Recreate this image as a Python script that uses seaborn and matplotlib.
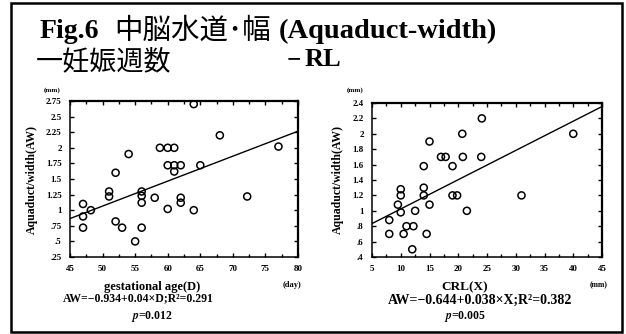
import numpy as np
import matplotlib
matplotlib.use("Agg")
import matplotlib.pyplot as plt
import seaborn as sns
from matplotlib.patches import Rectangle
from matplotlib.ticker import MultipleLocator

# gestational age (days) vs aqueduct width (mm)
ga_days = [47, 47, 47, 48.2, 51, 51, 52, 52, 53, 54, 55, 56, 56, 56, 56, 58,
           58.8, 60, 61, 60, 61, 62, 61, 60, 62, 62, 64, 64, 65, 68, 72.2, 77]
ga_aw = [1.1, 0.9, 0.72, 1.0, 1.3, 1.22, 0.82, 1.6, 0.72, 1.9, 0.5, 1.3, 1.23, 1.12,
         0.72, 1.2, 2.0, 2.0, 2.0, 1.72, 1.72, 1.72, 1.62, 1.02, 1.2, 1.12, 2.7, 1.0,
         1.72, 2.2, 1.22, 2.02]
ga_fit = (-0.934, 0.04)

# CRL (mm) vs aqueduct width (mm)
crl_mm = [8, 8, 9.5, 10, 10, 10, 10.5, 11, 12, 12.2, 12.5, 14, 14, 14, 14.5, 15,
          15, 17, 17.8, 19, 19, 19.8, 20.7, 20.8, 21.5, 24.1, 24, 31, 40]
crl_aw = [0.7, 0.88, 1.08, 1.28, 1.2, 0.98, 0.7, 0.8, 0.5, 0.8, 1.0, 1.58, 1.3, 1.2,
          0.7, 1.9, 1.08, 1.7, 1.7, 1.58, 1.2, 1.2, 2.0, 1.7, 1.0, 2.2, 1.7, 1.2, 2.0]
crl_fit = (0.644, 0.038)

ga_yticks = [0.25, 0.5, 0.75, 1, 1.25, 1.5, 1.75, 2, 2.25, 2.5, 2.75]
ga_yticklabels = [".25", ".5", ".75", "1", "1.25", "1.5", "1.75", "2", "2.25", "2.5", "2.75"]
crl_yticks = [0.4, 0.6, 0.8, 1.0, 1.2, 1.4, 1.6, 1.8, 2.0, 2.2, 2.4]
crl_yticklabels = [".4", ".6", ".8", "1", "1.2", "1.4", "1.6", "1.8", "2", "2.2", "2.4"]

sns.set_theme(style="ticks")
plt.rcParams['font.family'] = ['Liberation Serif', 'Noto Sans CJK JP']
plt.rcParams['font.weight'] = 'bold'
plt.rcParams['mathtext.fontset'] = 'stix'
for key in ('text.color', 'axes.labelcolor', 'xtick.color', 'ytick.color'):
    plt.rcParams[key] = 'black'

fig = plt.figure(figsize=(6.26, 3.34), dpi=100)
W, H = 626, 334


def px_axes(x0, y0, x1, y1):
    return fig.add_axes([x0 / W, 1 - y1 / H, (x1 - x0) / W, (y1 - y0) / H])


def draw_panel(ax, x, y, fit, xlim, xstep, yticks, yticklabels):
    sns.scatterplot(x=x, y=y, ax=ax, s=26, facecolor='none', edgecolor='black',
                    linewidth=1.1, zorder=3)
    xs = np.array(xlim, dtype=float)
    sns.lineplot(x=xs, y=fit[0] + fit[1] * xs, ax=ax, color='black', linewidth=1.0)
    ax.set_xlim(*xlim)
    ax.set_ylim(yticks[0], yticks[-1])
    ax.xaxis.set_major_locator(MultipleLocator(xstep))
    ax.xaxis.set_minor_locator(MultipleLocator(xstep / 2))
    ax.set_yticks(yticks)
    ax.set_yticklabels(yticklabels)
    ax.tick_params(which='both', direction='in', top=True, right=True,
                   labelsize=6.5, pad=6, width=1, length=3, color='black')
    ax.tick_params(which='minor', length=2)
    for lab in ax.get_xticklabels() + ax.get_yticklabels():
        lab.set_fontweight('bold')
    for side, sp in ax.spines.items():
        sp.set_visible(True)
        sp.set_color('black')
        sp.set_linewidth(1.6 if side in ('top', 'right') else 1.1)
    ax.set_xlabel('')
    ax.set_ylabel('Aquaduct/width(AW)', fontsize=8.5, fontweight='bold', labelpad=6)


ax1 = px_axes(70, 101, 298, 257)
draw_panel(ax1, ga_days, ga_aw, ga_fit, (45, 80), 5, ga_yticks, ga_yticklabels)
ax2 = px_axes(372, 103, 602, 257)
draw_panel(ax2, crl_mm, crl_aw, crl_fit, (5, 45), 5, crl_yticks, crl_yticklabels)

# outer frame
fig.patches.append(Rectangle((11 / W, 2 / H), 611 / W, 329 / H, transform=fig.transFigure,
                             fill=False, edgecolor='black', linewidth=1.8))


def ftext(x, y, s, **kw):
    fig.text(x / W, 1 - y / H, s, **kw)


# title, two lines
ftext(40, 31, 'Fig.6', fontsize=20, fontweight='bold', va='center')
ftext(114, 31, '中脳水道･幅', fontsize=20.5, fontweight='normal', va='center')
ftext(279, 31, '(Aquaduct-width)', fontsize=20.5, fontweight='bold', va='center')
ftext(36, 62, '一妊娠週数', fontsize=19.5, fontweight='normal', va='center')
ftext(287, 60, '−', fontsize=18, fontweight='bold', va='center')
ftext(305, 60, 'RL', fontsize=19, fontweight='bold', va='center')

ftext(44, 90, '(mm)', fontsize=5, fontweight='bold', va='center')
ftext(347, 90, '(mm)', fontsize=5, fontweight='bold', va='center')
ftext(283, 285, '(day)', fontsize=6, va='center')
ftext(590, 285, '(mm)', fontsize=5.5, va='center')

ftext(152, 287, 'gestational age(D)', fontsize=9, fontweight='bold', ha='center', va='center')
ftext(465, 287, 'CRL(X)', fontsize=9.5, fontweight='bold', ha='center', va='center')

ftext(138, 298, 'AW=−0.934+0.04×D;R²=0.291', fontsize=8.5, fontweight='bold', ha='center', va='center')
ftext(480, 300, 'AW=−0.644+0.038×X;R²=0.382', fontsize=10, fontweight='bold', ha='center', va='center')
ftext(152, 316, '$p$=0.012', fontsize=8.5, fontweight='bold', ha='center', va='center')
ftext(465, 316, '$p$=0.005', fontsize=8.5, fontweight='bold', ha='center', va='center')

fig.savefig('out.png', dpi=100)
plt.close(fig)
